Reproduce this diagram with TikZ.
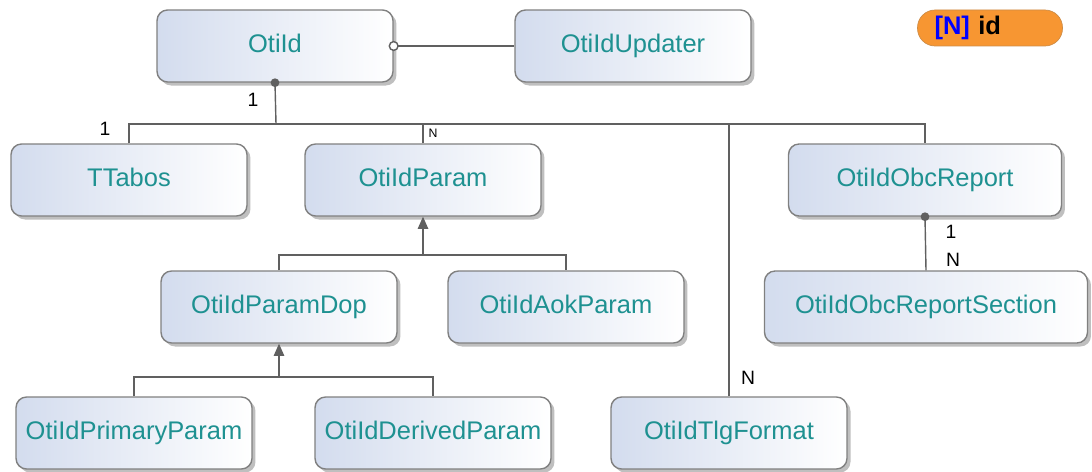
\documentclass[tikz,border=0pt]{standalone}
\usepackage{fontspec}
\setmainfont{Liberation Sans}
\usepackage{tikz}
\usetikzlibrary{arrows.meta,shadows,positioning}
\definecolor{entname}{RGB}{30,145,145}
\definecolor{boxleft}{RGB}{211,220,238}
\definecolor{boxline}{RGB}{128,128,128}
\definecolor{linkgray}{RGB}{96,96,96}
\definecolor{legendfill}{RGB}{247,150,50}
\definecolor{legendline}{RGB}{205,140,70}

\tikzset{
	entity/.style={rectangle, rounded corners=6pt, draw=boxline, line width=0.8pt,
		left color=boxleft, right color=white, minimum width=4.72cm, minimum height=1.44cm,
		font=\fontsize{14.5}{16}\selectfont, text=entname, text height=10.5pt, text depth=3pt,
		drop shadow={shadow xshift=2pt, shadow yshift=-2pt, fill=black, opacity=0.25}},
	link/.style={draw=linkgray, line width=0.8pt},
	card/.style={font=\fontsize{11}{12}\selectfont, inner sep=0pt},
	isa/.style={link, -{Triangle[length=7pt, width=6pt]}},
}

\begin{document}
\begin{tikzpicture}[x=0.02cm, y=-0.02cm]
	\useasboundingbox (0,0) rectangle (1092,472);

	% entities
	\node[entity] (otiid) at (275,46) {OtiId};
	\node[entity] (updater) at (633,46) {OtiIdUpdater};
	\node[entity] (ttabos) at (129,180) {TTabos};
	\node[entity] (param) at (423,180) {OtiIdParam};
	\node[entity, minimum width=5.46cm] (obcreport) at (925,180) {OtiIdObcReport};
	\node[entity] (paramdop) at (279,307) {OtiIdParamDop};
	\node[entity] (aokparam) at (566,307) {OtiIdAokParam};
	\node[entity, minimum width=6.46cm] (obcsection) at (926,307) {OtiIdObcReportSection};
	\node[entity] (primary) at (134,433) {OtiIdPrimaryParam};
	\node[entity] (derived) at (433,433) {OtiIdDerivedParam};
	\node[entity] (tlgformat) at (729,433) {OtiIdTlgFormat};

	% legend
	\node[rectangle, rounded corners=10pt, draw=legendline, fill=legendfill, minimum width=2.9cm,
		minimum height=0.72cm, inner xsep=0.34cm, text width=2.22cm, align=left,
		font=\bfseries\fontsize{14.5}{16}\selectfont] (legend) at (990,28) {\textcolor{blue}{[N]} id};

	% one-to-many bus below OtiId
	\coordinate (bus) at (276,124);
	\draw[link] (otiid.south) -- (bus);
	\draw[link] (ttabos.north) -- (ttabos.north |- bus) -| (obcreport.north);
	\draw[link] (param.north) -- (param.north |- bus);
	\draw[link] (tlgformat.north) -- (tlgformat.north |- bus);
	\fill[linkgray] (otiid.south) circle (2.5pt);

	\draw[link] (otiid.east) -- (updater.west);
	\draw[link, fill=white] (otiid.east) circle (2.5pt);

	\draw[link] (obcreport.south) -- (obcsection.north);
	\fill[linkgray] (obcreport.south) circle (2.5pt);

	% inheritance
	\coordinate (inhparam) at (423,255);
	\draw[isa] (inhparam) -- (param.south);
	\draw[link] (paramdop.north) -- (paramdop.north |- inhparam) -| (aokparam.north);
	\coordinate (inhdop) at (279,377);
	\draw[isa] (inhdop) -- (paramdop.south);
	\draw[link] (primary.north) -- (primary.north |- inhdop) -| (derived.north);

	% cardinalities
	\node[card] (c1) at (253,100) {1};
	\node[card] (c2) at (105,129) {1};
	\node[card, font=\fontsize{7}{8}\selectfont] (c3) at (433,133) {N};
	\node[card] (c4) at (748,378) {N};
	\node[card] (c5) at (951,232) {1};
	\node[card] (c6) at (953,260) {N};
\end{tikzpicture}
\end{document}
